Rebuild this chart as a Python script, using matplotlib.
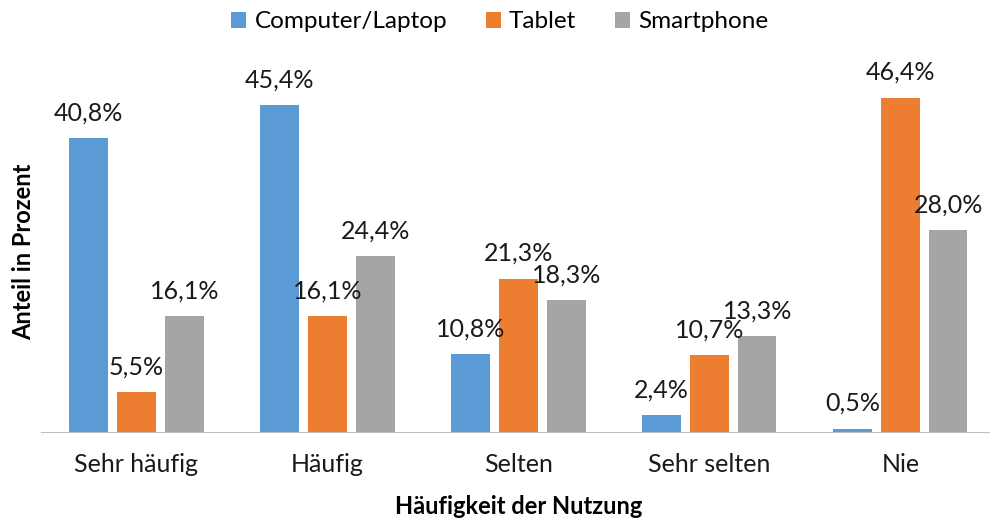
import numpy as np
import matplotlib.pyplot as plt

plt.rcParams['font.family'] = ['Lato', 'DejaVu Sans']

categories = ['Sehr häufig', 'Häufig', 'Selten', 'Sehr selten', 'Nie']
computer = [40.8, 45.4, 10.8, 2.4, 0.5]
tablet = [5.5, 16.1, 21.3, 10.7, 46.4]
smartphone = [16.1, 24.4, 18.3, 13.3, 28.0]
series_names = ['Computer/Laptop', 'Tablet', 'Smartphone']
colors = ['#5b9bd5', '#ed7d31', '#a5a5a5']

fig = plt.figure(figsize=(9.9, 5.2), dpi=100)
ax = fig.add_axes([0.0414, 0.169, 0.9646, 0.693])

x = np.arange(len(categories))
width = 0.2
step = 0.251
for i, (vals, name, c) in enumerate(zip([computer, tablet, smartphone], series_names, colors)):
    pos = x + (i - 1) * step
    ax.bar(pos, vals, width, color=c, label=name)
    for p, v in zip(pos, vals):
        ax.text(p, v + 1.9, ('%.1f%%' % v).replace('.', ','), ha='center', va='bottom',
                fontsize=18, color='#1a1a1a')

ax.set_xlim(-0.5, 4.5)
ax.set_ylim(0, 50)
ax.set_yticks([])
ax.set_xticks(x)
ax.set_xticklabels(categories, fontsize=18, color='#1a1a1a')
ax.tick_params(axis='x', length=0, pad=15)
for s in ['left', 'right', 'top']:
    ax.spines[s].set_visible(False)
ax.spines['bottom'].set_color('#bfbfbf')
ax.set_xlabel('Häufigkeit der Nutzung', fontsize=17, fontweight='bold', labelpad=14)
ax.set_ylabel('Anteil in Prozent', fontsize=17, fontweight='bold', labelpad=4)

fig.legend(loc='upper center', bbox_to_anchor=(0.505, 1.02), ncol=3, frameon=False,
           fontsize=17.5, handlelength=0.6, handleheight=0.6, columnspacing=1.6, handletextpad=0.35)

fig.savefig('out.png', dpi=100)
